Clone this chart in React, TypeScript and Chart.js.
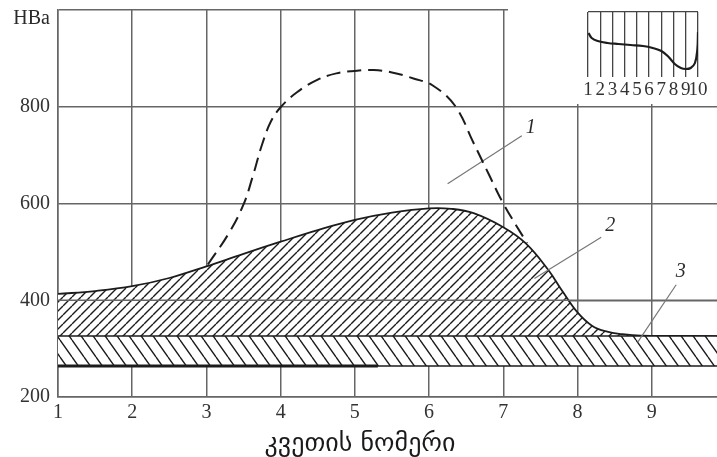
import React, { useEffect, useRef } from "react";
import { Chart, registerables } from "chart.js";
Chart.register(...registerables);

// ---- axes ----
const xTicks = [1, 2, 3, 4, 5, 6, 7, 8, 9];
const yTicks = [200, 400, 600, 800, 1000];
const xMin = 1;
const xMax = 9.88;
const yMin = 200;
const yMax = 1000;
const yAxisName = "HBa";
const xAxisTitle = "კვეთის ნომერი";
const xTitleAt = 5.07;

// ---- curve 2 (top of hatched zone) ----
const curve2X = [1, 1.5, 2, 2.5, 3, 3.5, 4, 4.5, 5, 5.5, 6, 6.3, 6.6, 7, 7.3, 7.6, 7.8, 8.0, 8.2, 8.4, 8.6, 8.85, 9.9];
const curve2Y = [413, 419, 429, 446, 470, 496, 521, 545, 566, 581, 590, 589, 580, 551, 518, 464, 418, 375, 347, 335, 330, 327, 326];

// ---- curve 1 (dashed) ----
const curve1X = [3.02, 3.3, 3.5, 3.62, 3.75, 3.87, 4.0, 4.22, 4.5, 4.75, 5.0, 5.25, 5.5, 5.8, 6.05, 6.35, 6.6, 6.8, 7.0, 7.32];
const curve1Y = [474, 538, 598, 654, 722, 770, 799, 830, 856, 869, 874, 876, 871, 858, 844, 802, 725, 662, 600, 518];

// ---- band 3 ----
const bandX = [1, 9.9];
const bandBottom = [264, 264];
const bandTop = [326, 326];
const thickLineX = [1, 5.31];
const thickLineY = [264, 264];
const midLineX = [1, 9.9];
const midLineY = [400, 400];

// ---- callouts ----
const calloutText = ["1", "2", "3"];
const calloutLineX = [[6.25, 7.25], [7.42, 8.32], [8.81, 9.33]];
const calloutLineY = [[641, 740], [445, 530], [313, 432]];
const calloutTextX = [7.37, 8.44, 9.39];
const calloutTextY = [757, 555, 458];

// ---- inset ----
const insetTicks = [1, 2, 3, 4, 5, 6, 7, 8, 9, 10];
const insetX = [1.05, 1.3, 1.8, 2.6, 3.5, 4.5, 5.5, 6.3, 7.0, 7.6, 8.1, 8.6, 9.0, 9.4, 9.75, 9.95, 10.0];
const insetY = [44, 39, 36, 34, 33, 32, 31, 29, 26, 20, 13, 9, 8, 9, 14, 28, 45];

const GRID = "#666666";
const INK = "#1c1c1c";
const TICK_FONT = { family: "'Liberation Serif', 'DejaVu Serif', serif", size: 20, lineHeight: 1 };

function makePattern(w: number, h: number, dir: "/" | "\\") {
  const c = document.createElement("canvas");
  c.width = w;
  c.height = h;
  const g = c.getContext("2d")!;
  g.fillStyle = "#ffffff";
  g.fillRect(0, 0, w, h);
  g.strokeStyle = INK;
  g.lineWidth = 1.4;
  g.beginPath();
  for (const k of [-1, 0, 1]) {
    if (dir === "/") {
      g.moveTo(k * w, h);
      g.lineTo(k * w + w, 0);
    } else {
      g.moveTo(k * w, 0);
      g.lineTo(k * w + w, h);
    }
  }
  g.stroke();
  return g.createPattern(c, "repeat")!;
}

const pts = (xs: number[], ys: number[]) => xs.map((x, i) => ({ x, y: ys[i] }));

export default function App() {
  const mainRef = useRef<HTMLCanvasElement>(null);
  const insetRef = useRef<HTMLCanvasElement>(null);

  useEffect(() => {
    document.body.style.margin = "0";
    const hatchFwd = makePattern(9, 9, "/");
    const hatchBack = makePattern(12, 17, "\\");

    const textPlugin = {
      id: "texts",
      afterDraw(chart: any) {
        const { ctx, scales, chartArea } = chart;
        const xs = scales.x;
        const ys = scales.y;
        ctx.save();
        ctx.fillStyle = "#2a2a2a";
        ctx.font = "20px 'Liberation Serif', serif";
        ctx.textAlign = "right";
        ctx.textBaseline = "middle";
        ctx.fillText(yAxisName, chartArea.left - 8, ys.getPixelForValue(yMax) + 9);

        ctx.font = "italic 20px 'Liberation Serif', serif";
        ctx.textAlign = "center";
        calloutText.forEach((t, i) => {
          ctx.fillText(t, xs.getPixelForValue(calloutTextX[i]), ys.getPixelForValue(calloutTextY[i]));
        });

        ctx.font = "26px 'DejaVu Sans', sans-serif";
        ctx.fillStyle = "#1a1a1a";
        ctx.fillText(xAxisTitle, xs.getPixelForValue(xTitleAt), chartArea.bottom + 47);
        ctx.restore();
      },
    };

    const calloutSets = calloutText.map((t, i) => ({
      label: "callout " + t,
      data: pts(calloutLineX[i], calloutLineY[i]),
      borderColor: "#777",
      borderWidth: 1.2,
      pointRadius: 0,
      fill: false,
    }));

    const main = new Chart(mainRef.current!, {
      type: "line",
      data: {
        datasets: [
          {
            label: "1",
            data: pts(curve1X, curve1Y),
            borderColor: INK,
            borderWidth: 2,
            borderDash: [14, 7],
            pointRadius: 0,
            tension: 0.4,
            fill: false,
          },
          ...calloutSets,
          {
            label: "thick",
            data: pts(thickLineX, thickLineY),
            borderColor: INK,
            borderWidth: 3,
            pointRadius: 0,
            fill: false,
          },
          {
            label: "mid",
            data: pts(midLineX, midLineY),
            borderColor: GRID,
            borderWidth: 1.5,
            pointRadius: 0,
            fill: false,
          },
          {
            label: "band bottom",
            data: pts(bandX, bandBottom),
            borderColor: INK,
            borderWidth: 1.6,
            pointRadius: 0,
            fill: false,
          },
          {
            label: "3",
            data: pts(bandX, bandTop),
            borderColor: INK,
            borderWidth: 1.6,
            pointRadius: 0,
            fill: "-1",
            backgroundColor: hatchBack as any,
          },
          {
            label: "2",
            data: pts(curve2X, curve2Y),
            borderColor: INK,
            borderWidth: 1.8,
            pointRadius: 0,
            tension: 0.4,
            fill: "-1",
            backgroundColor: hatchFwd as any,
          },
        ],
      },
      options: {
        animation: false,
        responsive: false,
        devicePixelRatio: 1,
        layout: { padding: { top: 10, left: 0, right: 0, bottom: 0 } },
        plugins: { legend: { display: false }, tooltip: { enabled: false } },
        scales: {
          x: {
            type: "linear",
            min: xMin,
            max: xMax,
            afterBuildTicks: (s: any) => {
              s.ticks = xTicks.map((v) => ({ value: v }));
            },
            afterFit: (s: any) => {
              s.height = 60;
              s.paddingLeft = 0;
              s.paddingRight = 0;
            },
            ticks: { font: TICK_FONT, color: "#333", padding: 6, maxRotation: 0, autoSkip: false },
            grid: { color: GRID, lineWidth: 1.5, drawTicks: false },
            border: { display: true, color: GRID, width: 1.5 },
          },
          y: {
            type: "linear",
            min: yMin,
            max: yMax,
            afterBuildTicks: (s: any) => {
              s.ticks = yTicks.map((v) => ({ value: v }));
            },
            afterFit: (s: any) => {
              s.width = 58;
              s.paddingTop = 0;
              s.paddingBottom = 0;
            },
            ticks: {
              font: TICK_FONT,
              color: "#333",
              padding: 8,
              autoSkip: false,
              callback: (v: any) => (v === yMax ? "" : String(v)),
            },
            grid: { color: GRID, lineWidth: 1.5, drawTicks: false },
            border: { display: true, color: GRID, width: 1.5 },
          },
        },
      },
      plugins: [textPlugin],
    });

    const inset = new Chart(insetRef.current!, {
      type: "line",
      data: {
        datasets: [
          {
            label: "inset",
            data: pts(insetX, insetY),
            borderColor: INK,
            borderWidth: 2.2,
            pointRadius: 0,
            tension: 0.4,
            fill: false,
          },
        ],
      },
      options: {
        animation: false,
        responsive: false,
        devicePixelRatio: 1,
        layout: { padding: { top: 12, left: 80, right: 19, bottom: 0 } },
        plugins: { legend: { display: false }, tooltip: { enabled: false } },
        scales: {
          x: {
            type: "linear",
            min: 1,
            max: 10,
            afterBuildTicks: (s: any) => {
              s.ticks = insetTicks.map((v) => ({ value: v }));
            },
            afterFit: (s: any) => {
              s.height = 27;
              s.paddingLeft = 0;
              s.paddingRight = 0;
            },
            ticks: { font: { ...TICK_FONT, size: 19 }, color: "#333", padding: 4, maxRotation: 0, autoSkip: false },
            grid: { color: "#444", lineWidth: 1.3, drawTicks: false },
            border: { display: false },
          },
          y: {
            type: "linear",
            min: 0,
            max: 65,
            afterBuildTicks: (s: any) => {
              s.ticks = [{ value: 65 }];
            },
            afterFit: (s: any) => {
              s.width = 0;
              s.paddingTop = 0;
              s.paddingBottom = 0;
            },
            ticks: { display: false },
            grid: { color: "#444", lineWidth: 1.3, drawTicks: false },
            border: { display: false },
          },
        },
      },
    });

    return () => {
      main.destroy();
      inset.destroy();
    };
  }, []);

  return (
    <div style={{ position: "relative", width: 717, height: 457, background: "#fff", overflow: "hidden" }}>
      <canvas ref={mainRef} width={717} height={457} style={{ position: "absolute", left: 0, top: 0 }} />
      <canvas
        ref={insetRef}
        width={209}
        height={104}
        style={{ position: "absolute", left: 508, top: 0, background: "#fff" }}
      />
    </div>
  );
}
